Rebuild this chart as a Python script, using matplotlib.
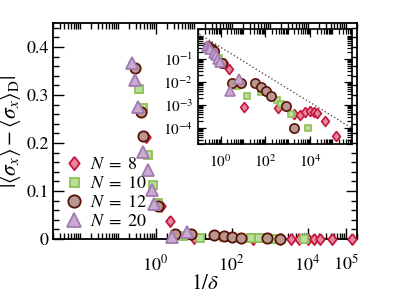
import numpy as np
import matplotlib
matplotlib.use("Agg")
import matplotlib.pyplot as plt
from matplotlib.ticker import FixedLocator, NullFormatter, LogFormatterMathtext

plt.rcParams['font.family'] = ['STIXGeneral', 'DejaVu Serif']
plt.rcParams['mathtext.fontset'] = 'stix'

# ---- data: x = 1/delta, y = |<sx> - <sx>_D| ----
labels = [r"$N\;=\;8$", r"$N\;=\;10$", r"$N\;=\;12$", r"$N\;=\;20$"]

x_N8 = 10 ** np.array([-0.24, 0.15, 0.39, 1.02, 2.57, 3.27, 3.57, 3.78, 4.0, 4.17, 4.32, 4.65, 5.16])
y_N8 = [0.213, 0.068, 0.038, 8.0e-4, 7.4e-4, 4.1e-4, 3.7e-4, 5.1e-4, 5.6e-4, 4.8e-4, 4.4e-4, 2.0e-4, 4.3e-5]

x_N10 = 10 ** np.array([-0.44, -0.33, -0.2, -0.07, 0.07, 0.71, 1.17, 1.80, 2.51, 2.72, 3.15, 3.9])
y_N10 = [0.313, 0.272, 0.175, 0.112, 0.075, 0.0067, 0.0024, 0.0038, 0.0016, 0.0011, 4.0e-4, 9.7e-5]

x_N12 = 10 ** np.array([-0.55, -0.38, -0.32, 0.07, 0.51, 0.93, 1.53, 1.80, 2.01, 2.24, 2.92, 3.28])
y_N12 = [0.357, 0.265, 0.214, 0.068, 0.0093, 0.0093, 0.0088, 0.0058, 0.0039, 0.0025, 9.1e-4, 9.7e-5]

x_N20 = 10 ** np.array([-0.61, -0.54, -0.46, -0.32, -0.2, -0.1, -0.05, 0.42, 0.82])
y_N20 = [0.367, 0.332, 0.276, 0.181, 0.143, 0.101, 0.072, 0.0041, 0.0138]

guide_prefactor = 0.32
guide_exponent = -0.6

main_xticks = [1e0, 1e2, 1e4, 1e5]
main_yticks = [0, 0.1, 0.2, 0.3, 0.4]
inset_xticks = [1e0, 1e2, 1e4]
inset_yticks = [1e-4, 1e-3, 1e-2, 1e-1]

# ---- styles ----
diamond = [(0, 1), (0.78, 0), (0, -1), (-0.78, 0), (0, 1)]
styles = [
    dict(marker=diamond, ms=8.0, mfc='#e4899b', mec='#c4163e'),
    dict(marker='s', ms=5.4, mfc='#bcdca4', mec='#8cc152'),
    dict(marker='o', ms=7.4, mfc='#b9998f', mec='#5a1206'),
    dict(marker='^', ms=8.2, mfc='#c9abd1', mec='#a27ab2'),
]
series = [(x_N8, y_N8), (x_N10, y_N10), (x_N12, y_N12), (x_N20, y_N20)]

fig = plt.figure(figsize=(3.95, 2.96), dpi=100)
ax = fig.add_axes([0.134, 0.193, 0.770, 0.729])

for (x, y), st, lab in zip(series, styles, labels):
    ax.plot(x, y, ls='none', mew=1.3, label=lab, clip_on=False, zorder=3, **st)

ax.set_xscale('log')
ax.set_xlim(2e-3, 2e5)
ax.set_ylim(0, 0.45)
ax.xaxis.set_major_locator(FixedLocator(main_xticks))
ax.xaxis.set_major_formatter(LogFormatterMathtext())
minor = []
for d in range(-3, 6):
    for s in range(1, 10):
        v = s * 10.0 ** d
        if v not in main_xticks:
            minor.append(v)
ax.xaxis.set_minor_locator(FixedLocator(minor))
ax.xaxis.set_minor_formatter(NullFormatter())
ax.set_yticks(main_yticks)
ax.set_yticklabels(['0', '0.1', '0.2', '0.3', '0.4'])
ax.yaxis.set_minor_locator(FixedLocator(np.arange(0, 0.45, 0.02)))
ax.tick_params(which='both', direction='in', top=True, right=True, labelsize=13, width=1.0)
ax.tick_params(which='major', length=8)
ax.tick_params(which='minor', length=4.5)
ax.tick_params(axis='x', pad=11)
ax.tick_params(axis='y', pad=3)
for sp in ax.spines.values():
    sp.set_linewidth(1.3)

ax.set_xlabel(r'$1/\delta$', fontsize=15, labelpad=0)
ax.set_ylabel(r'$|\langle\sigma_x\rangle - \langle\sigma_x\rangle_{\rm D}|$', fontsize=15.5, labelpad=2)

leg = ax.legend(loc='lower left', bbox_to_anchor=(0.0, 0.0), frameon=False, fontsize=13,
                handletextpad=0.25, labelspacing=0.12, borderaxespad=0.1, handlelength=1.3,
                markerscale=1.2)

# ---- inset ----
ins = fig.add_axes([0.501, 0.514, 0.390, 0.388])
for (x, y), st in zip(series, styles):
    ins.plot(x, y, ls='none', mew=1.2, zorder=3, **dict(st, ms=st['ms'] * 0.9))
gx = np.logspace(-1.1, 6.0, 50)
ins.plot(gx, guide_prefactor * gx ** guide_exponent, ls=':', color='#555555', lw=1.0, zorder=2)
ins.set_xscale('log')
ins.set_yscale('log')
ins.set_xlim(0.095, 7.5e5)
ins.set_ylim(2e-5, 2.0)
ins.xaxis.set_major_locator(FixedLocator(inset_xticks))
ins.xaxis.set_major_formatter(LogFormatterMathtext())
iminor = [s * 10.0 ** d for d in range(-2, 7) for s in range(1, 10) if s * 10.0 ** d not in inset_xticks]
ins.xaxis.set_minor_locator(FixedLocator(iminor))
ins.xaxis.set_minor_formatter(NullFormatter())
ins.yaxis.set_major_locator(FixedLocator(inset_yticks))
ins.yaxis.set_major_formatter(LogFormatterMathtext())
yminor = [s * 10.0 ** d for d in range(-5, 1) for s in range(1, 10) if s * 10.0 ** d not in inset_yticks]
ins.yaxis.set_minor_locator(FixedLocator(yminor))
ins.yaxis.set_minor_formatter(NullFormatter())
ins.tick_params(which='both', direction='in', top=True, right=True, labelsize=11, width=0.9)
ins.tick_params(which='major', length=6)
ins.tick_params(which='minor', length=3.5)
ins.tick_params(axis='x', pad=7)
for sp in ins.spines.values():
    sp.set_linewidth(1.2)

fig.savefig('out.png', dpi=100)
